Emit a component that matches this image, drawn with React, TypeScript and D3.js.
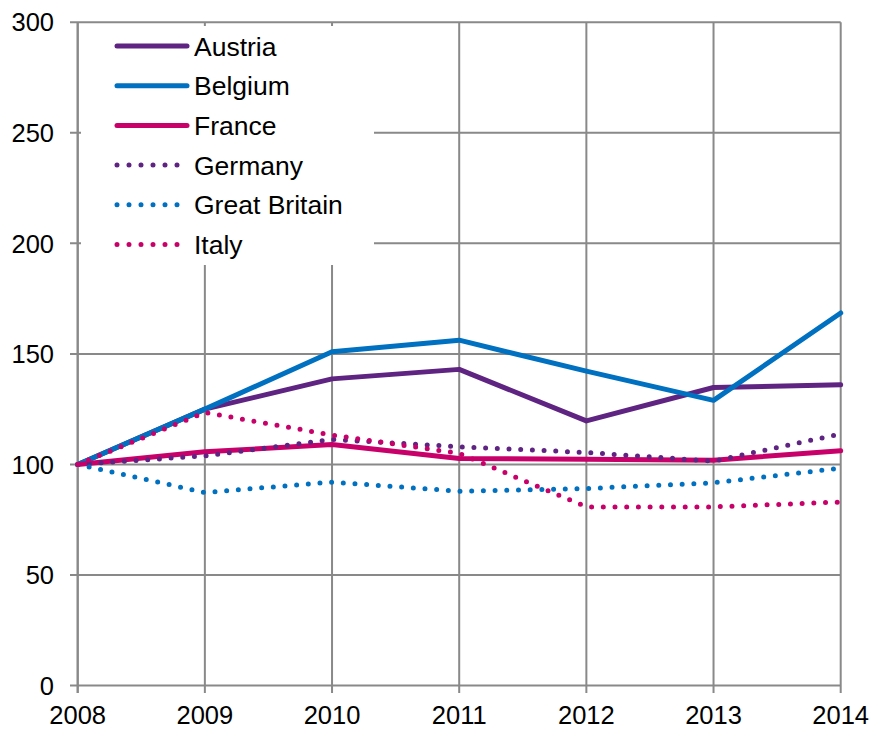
import React from "react";
import * as d3 from "d3";

const years = [2008, 2009, 2010, 2011, 2012, 2013, 2014];
const yTicks = [0, 50, 100, 150, 200, 250, 300];

const austria = [100, 125, 138.7, 143, 119.7, 134.8, 136];
const belgium = [100, 125, 151, 156.2, 142.2, 129, 168.5];
const france = [100, 105.7, 109, 102.7, 102.3, 101.9, 106.2];
const germany = [100, 103.9, 111.3, 108, 105.4, 101.5, 113.8];
const greatBritain = [100, 87.3, 92, 87.9, 89.1, 91.7, 98.3];
const italy = [100, 123.5, 113.3, 105, 80.8, 80.8, 83];

const seriesNames = ["Austria", "Belgium", "France", "Germany", "Great Britain", "Italy"];
const seriesValues = [austria, belgium, france, germany, greatBritain, italy];
const seriesColors = ["#5F2382", "#0070C0", "#C8006A", "#5F2382", "#0070C0", "#C8006A"];
const seriesDotted = [false, false, false, true, true, true];

export default function App() {
  const W = 872, H = 730;
  const x = d3.scaleLinear().domain([2008, 2014]).range([77.7, 840.7]);
  const y = d3.scaleLinear().domain([0, 300]).range([685.5, 22.3]);
  const line = d3.line<number>().x((_, i) => x(years[i])).y((v) => y(v));
  const font = "'Liberation Sans', Arial, sans-serif";
  const grid = "#898989";
  return (
    <svg width={W} height={H} style={{ position: "absolute", left: 0, top: 0 }} fontFamily={font}>
      <rect width={W} height={H} fill="#fff" />
      {yTicks.map((t) => (
        <g key={"y" + t}>
          <line x1={70} x2={x(2014)} y1={y(t)} y2={y(t)} stroke={grid} strokeWidth={2} />
          <text x={54} y={y(t)} dy="0.36em" textAnchor="end" fontSize={25.5} fill="#000">{t}</text>
        </g>
      ))}
      {years.map((yr) => (
        <g key={"x" + yr}>
          <line x1={x(yr)} x2={x(yr)} y1={y(300)} y2={693} stroke={grid} strokeWidth={2} />
          <text x={x(yr)} y={723.5} textAnchor="middle" fontSize={25.5} fill="#000">{yr}</text>
        </g>
      ))}
      <rect x={81} y={26} width={293} height={239} fill="#fff" />
      <line x1={x(2008)} x2={x(2008)} y1={y(300)} y2={693} stroke={grid} strokeWidth={2} />
      {seriesValues.map((vals, i) => (
        <path
          key={"s" + i}
          d={line(vals) || ""}
          fill="none"
          stroke={seriesColors[i]}
          strokeWidth={5}
          strokeLinecap="round"
          strokeLinejoin="round"
          strokeDasharray={seriesDotted[i] ? "0 11.7" : undefined}
        />
      ))}
      {seriesNames.map((n, i) => {
        const cy = 46 + i * 39.7;
        return (
          <g key={"l" + i}>
            <line
              x1={117}
              x2={seriesDotted[i] ? 180 : 187}
              y1={cy}
              y2={cy}
              stroke={seriesColors[i]}
              strokeWidth={5}
              strokeLinecap="round"
              strokeDasharray={seriesDotted[i] ? "0 12" : undefined}
            />
            <text x={194} y={cy} dy="0.36em" fontSize={26.5} fill="#000">{n}</text>
          </g>
        );
      })}
    </svg>
  );
}
